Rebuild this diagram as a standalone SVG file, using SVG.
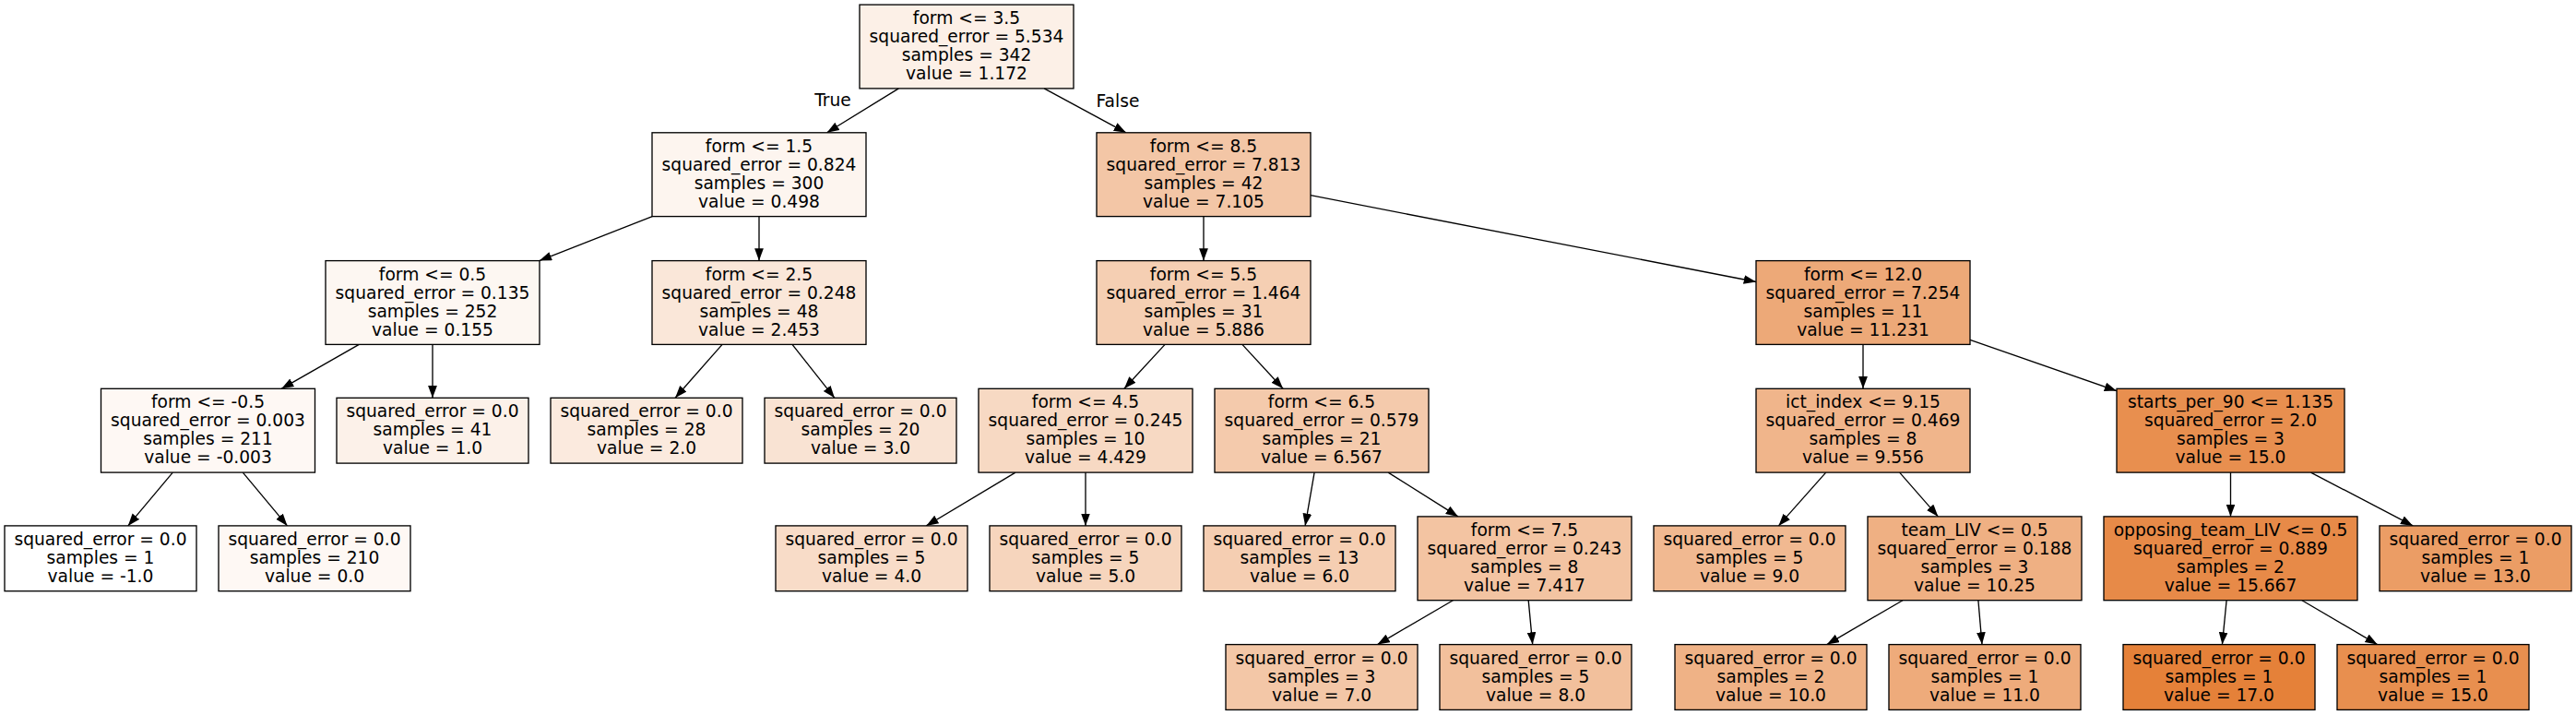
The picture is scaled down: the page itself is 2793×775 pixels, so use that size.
<svg xmlns="http://www.w3.org/2000/svg" width="2793" height="775" viewBox="0 0 2793 775">
<style>
g.n rect{stroke:#000;stroke-width:1.33}
text{font-family:"DejaVu Sans","Liberation Sans",sans-serif;font-size:18.67px;text-anchor:middle;fill:#000}
.e line{stroke:#000;stroke-width:1.33;marker-end:url(#ah)}
</style>
<defs>
<marker id="ah" markerUnits="userSpaceOnUse" markerWidth="15" markerHeight="11" refX="13.3" refY="4.9" orient="auto">
<path d="M0,0 L13.3,4.9 L0,9.8 z" fill="#000"/>
</marker>
</defs>
<rect x="0" y="0" width="2793" height="775" fill="#fff"/>
<g class="e" id="edges">
<line x1="974.4" y1="95.9" x2="896.6" y2="143.8"/>
<line x1="1132.1" y1="95.9" x2="1220.9" y2="143.8"/>
<line x1="707.2" y1="234.6" x2="584.8" y2="282.6"/>
<line x1="823" y1="234.6" x2="823" y2="282.6"/>
<line x1="389.3" y1="373.4" x2="305.2" y2="421.3"/>
<line x1="469" y1="373.4" x2="469" y2="431.3"/>
<line x1="187.3" y1="512.1" x2="138.8" y2="569.9"/>
<line x1="263.3" y1="512.1" x2="311.5" y2="569.9"/>
<line x1="783.1" y1="373.4" x2="732.1" y2="431.3"/>
<line x1="859" y1="373.4" x2="904.9" y2="431.3"/>
<line x1="1305" y1="234.6" x2="1305" y2="282.6"/>
<line x1="1421" y1="211.7" x2="1904" y2="305.5"/>
<line x1="1263.1" y1="373.4" x2="1218.9" y2="421.3"/>
<line x1="1346.9" y1="373.4" x2="1391.1" y2="421.3"/>
<line x1="1101" y1="512.1" x2="1004.3" y2="569.9"/>
<line x1="1177" y1="512.1" x2="1177" y2="569.9"/>
<line x1="1425.1" y1="512.1" x2="1415.1" y2="569.9"/>
<line x1="1505.1" y1="512.1" x2="1580.9" y2="559.9"/>
<line x1="1575.4" y1="650.7" x2="1493.5" y2="698.6"/>
<line x1="1657.2" y1="650.7" x2="1661.7" y2="698.6"/>
<line x1="2020" y1="373.4" x2="2020" y2="421.3"/>
<line x1="2136" y1="368.4" x2="2295" y2="423.7"/>
<line x1="1979.7" y1="512.1" x2="1928.4" y2="569.9"/>
<line x1="2059.6" y1="512.1" x2="2101.4" y2="559.9"/>
<line x1="2063" y1="650.7" x2="1980.8" y2="698.6"/>
<line x1="2144.9" y1="650.7" x2="2149" y2="698.6"/>
<line x1="2418.5" y1="512.1" x2="2418.5" y2="559.9"/>
<line x1="2505.5" y1="512.1" x2="2616.2" y2="569.9"/>
<line x1="2414.1" y1="650.7" x2="2409.4" y2="698.6"/>
<line x1="2495.9" y1="650.7" x2="2577.6" y2="698.6"/>
</g>
<g id="edge-labels">
<text x="903" y="115">True</text>
<text x="1212" y="116">False</text>
</g>
<g class="n" id="node0"><rect x="932" y="5.1" width="232" height="90.8" fill="#fcf0e7"/>
<text x="1048" y="26">form &lt;= 3.5</text><text x="1048" y="46">squared_error = 5.534</text><text x="1048" y="66">samples = 342</text><text x="1048" y="86">value = 1.172</text></g>
<g class="n" id="node1"><rect x="707" y="143.8" width="232" height="90.8" fill="#fdf5ef"/>
<text x="823" y="164.7">form &lt;= 1.5</text><text x="823" y="184.7">squared_error = 0.824</text><text x="823" y="204.7">samples = 300</text><text x="823" y="224.7">value = 0.498</text></g>
<g class="n" id="node2"><rect x="353" y="282.6" width="232" height="90.8" fill="#fdf7f2"/>
<text x="469" y="303.5">form &lt;= 0.5</text><text x="469" y="323.5">squared_error = 0.135</text><text x="469" y="343.5">samples = 252</text><text x="469" y="363.5">value = 0.155</text></g>
<g class="n" id="node3"><rect x="109.5" y="421.3" width="232" height="90.8" fill="#fef8f4"/>
<text x="225.5" y="442.2">form &lt;= -0.5</text><text x="225.5" y="462.2">squared_error = 0.003</text><text x="225.5" y="482.2">samples = 211</text><text x="225.5" y="502.2">value = -0.003</text></g>
<g class="n" id="node4"><rect x="5" y="569.9" width="208" height="70.8" fill="#ffffff"/>
<text x="109" y="590.8">squared_error = 0.0</text><text x="109" y="610.8">samples = 1</text><text x="109" y="630.8">value = -1.0</text></g>
<g class="n" id="node5"><rect x="237" y="569.9" width="208" height="70.8" fill="#fef8f4"/>
<text x="341" y="590.8">squared_error = 0.0</text><text x="341" y="610.8">samples = 210</text><text x="341" y="630.8">value = 0.0</text></g>
<g class="n" id="node6"><rect x="365" y="431.3" width="208" height="70.8" fill="#fcf1e9"/>
<text x="469" y="452.2">squared_error = 0.0</text><text x="469" y="472.2">samples = 41</text><text x="469" y="492.2">value = 1.0</text></g>
<g class="n" id="node7"><rect x="707" y="282.6" width="232" height="90.8" fill="#fae7d9"/>
<text x="823" y="303.5">form &lt;= 2.5</text><text x="823" y="323.5">squared_error = 0.248</text><text x="823" y="343.5">samples = 48</text><text x="823" y="363.5">value = 2.453</text></g>
<g class="n" id="node8"><rect x="597" y="431.3" width="208" height="70.8" fill="#fbeade"/>
<text x="701" y="452.2">squared_error = 0.0</text><text x="701" y="472.2">samples = 28</text><text x="701" y="492.2">value = 2.0</text></g>
<g class="n" id="node9"><rect x="829" y="431.3" width="208" height="70.8" fill="#f9e3d3"/>
<text x="933" y="452.2">squared_error = 0.0</text><text x="933" y="472.2">samples = 20</text><text x="933" y="492.2">value = 3.0</text></g>
<g class="n" id="node10"><rect x="1189" y="143.8" width="232" height="90.8" fill="#f3c6a6"/>
<text x="1305" y="164.7">form &lt;= 8.5</text><text x="1305" y="184.7">squared_error = 7.813</text><text x="1305" y="204.7">samples = 42</text><text x="1305" y="224.7">value = 7.105</text></g>
<g class="n" id="node11"><rect x="1189" y="282.6" width="232" height="90.8" fill="#f5cfb3"/>
<text x="1305" y="303.5">form &lt;= 5.5</text><text x="1305" y="323.5">squared_error = 1.464</text><text x="1305" y="343.5">samples = 31</text><text x="1305" y="363.5">value = 5.886</text></g>
<g class="n" id="node12"><rect x="1061" y="421.3" width="232" height="90.8" fill="#f7d9c3"/>
<text x="1177" y="442.2">form &lt;= 4.5</text><text x="1177" y="462.2">squared_error = 0.245</text><text x="1177" y="482.2">samples = 10</text><text x="1177" y="502.2">value = 4.429</text></g>
<g class="n" id="node13"><rect x="841" y="569.9" width="208" height="70.8" fill="#f8dcc8"/>
<text x="945" y="590.8">squared_error = 0.0</text><text x="945" y="610.8">samples = 5</text><text x="945" y="630.8">value = 4.0</text></g>
<g class="n" id="node14"><rect x="1073" y="569.9" width="208" height="70.8" fill="#f6d5bd"/>
<text x="1177" y="590.8">squared_error = 0.0</text><text x="1177" y="610.8">samples = 5</text><text x="1177" y="630.8">value = 5.0</text></g>
<g class="n" id="node15"><rect x="1317" y="421.3" width="232" height="90.8" fill="#f4caac"/>
<text x="1433" y="442.2">form &lt;= 6.5</text><text x="1433" y="462.2">squared_error = 0.579</text><text x="1433" y="482.2">samples = 21</text><text x="1433" y="502.2">value = 6.567</text></g>
<g class="n" id="node16"><rect x="1305" y="569.9" width="208" height="70.8" fill="#f5ceb2"/>
<text x="1409" y="590.8">squared_error = 0.0</text><text x="1409" y="610.8">samples = 13</text><text x="1409" y="630.8">value = 6.0</text></g>
<g class="n" id="node17"><rect x="1537" y="559.9" width="232" height="90.8" fill="#f3c4a2"/>
<text x="1653" y="580.8">form &lt;= 7.5</text><text x="1653" y="600.8">squared_error = 0.243</text><text x="1653" y="620.8">samples = 8</text><text x="1653" y="640.8">value = 7.417</text></g>
<g class="n" id="node18"><rect x="1329" y="698.6" width="208" height="70.8" fill="#f3c7a7"/>
<text x="1433" y="719.5">squared_error = 0.0</text><text x="1433" y="739.5">samples = 3</text><text x="1433" y="759.5">value = 7.0</text></g>
<g class="n" id="node19"><rect x="1561" y="698.6" width="208" height="70.8" fill="#f2c09c"/>
<text x="1665" y="719.5">squared_error = 0.0</text><text x="1665" y="739.5">samples = 5</text><text x="1665" y="759.5">value = 8.0</text></g>
<g class="n" id="node20"><rect x="1904" y="282.6" width="232" height="90.8" fill="#eda978"/>
<text x="2020" y="303.5">form &lt;= 12.0</text><text x="2020" y="323.5">squared_error = 7.254</text><text x="2020" y="343.5">samples = 11</text><text x="2020" y="363.5">value = 11.231</text></g>
<g class="n" id="node21"><rect x="1904" y="421.3" width="232" height="90.8" fill="#f0b58b"/>
<text x="2020" y="442.2">ict_index &lt;= 9.15</text><text x="2020" y="462.2">squared_error = 0.469</text><text x="2020" y="482.2">samples = 8</text><text x="2020" y="502.2">value = 9.556</text></g>
<g class="n" id="node22"><rect x="1793" y="569.9" width="208" height="70.8" fill="#f1b991"/>
<text x="1897" y="590.8">squared_error = 0.0</text><text x="1897" y="610.8">samples = 5</text><text x="1897" y="630.8">value = 9.0</text></g>
<g class="n" id="node23"><rect x="2025" y="559.9" width="232" height="90.8" fill="#efb083"/>
<text x="2141" y="580.8">team_LIV &lt;= 0.5</text><text x="2141" y="600.8">squared_error = 0.188</text><text x="2141" y="620.8">samples = 3</text><text x="2141" y="640.8">value = 10.25</text></g>
<g class="n" id="node24"><rect x="1816" y="698.6" width="208" height="70.8" fill="#efb286"/>
<text x="1920" y="719.5">squared_error = 0.0</text><text x="1920" y="739.5">samples = 2</text><text x="1920" y="759.5">value = 10.0</text></g>
<g class="n" id="node25"><rect x="2048" y="698.6" width="208" height="70.8" fill="#eeab7b"/>
<text x="2152" y="719.5">squared_error = 0.0</text><text x="2152" y="739.5">samples = 1</text><text x="2152" y="759.5">value = 11.0</text></g>
<g class="n" id="node26"><rect x="2295" y="421.3" width="247" height="90.8" fill="#e88f4f"/>
<text x="2418.5" y="442.2">starts_per_90 &lt;= 1.135</text><text x="2418.5" y="462.2">squared_error = 2.0</text><text x="2418.5" y="482.2">samples = 3</text><text x="2418.5" y="502.2">value = 15.0</text></g>
<g class="n" id="node27"><rect x="2281" y="559.9" width="275" height="90.8" fill="#e78a48"/>
<text x="2418.5" y="580.8">opposing_team_LIV &lt;= 0.5</text><text x="2418.5" y="600.8">squared_error = 0.889</text><text x="2418.5" y="620.8">samples = 2</text><text x="2418.5" y="640.8">value = 15.667</text></g>
<g class="n" id="node28"><rect x="2302" y="698.6" width="208" height="70.8" fill="#e58139"/>
<text x="2406" y="719.5">squared_error = 0.0</text><text x="2406" y="739.5">samples = 1</text><text x="2406" y="759.5">value = 17.0</text></g>
<g class="n" id="node29"><rect x="2534" y="698.6" width="208" height="70.8" fill="#e88f4f"/>
<text x="2638" y="719.5">squared_error = 0.0</text><text x="2638" y="739.5">samples = 1</text><text x="2638" y="759.5">value = 15.0</text></g>
<g class="n" id="node30"><rect x="2580" y="569.9" width="208" height="70.8" fill="#eb9d65"/>
<text x="2684" y="590.8">squared_error = 0.0</text><text x="2684" y="610.8">samples = 1</text><text x="2684" y="630.8">value = 13.0</text></g>
</svg>
